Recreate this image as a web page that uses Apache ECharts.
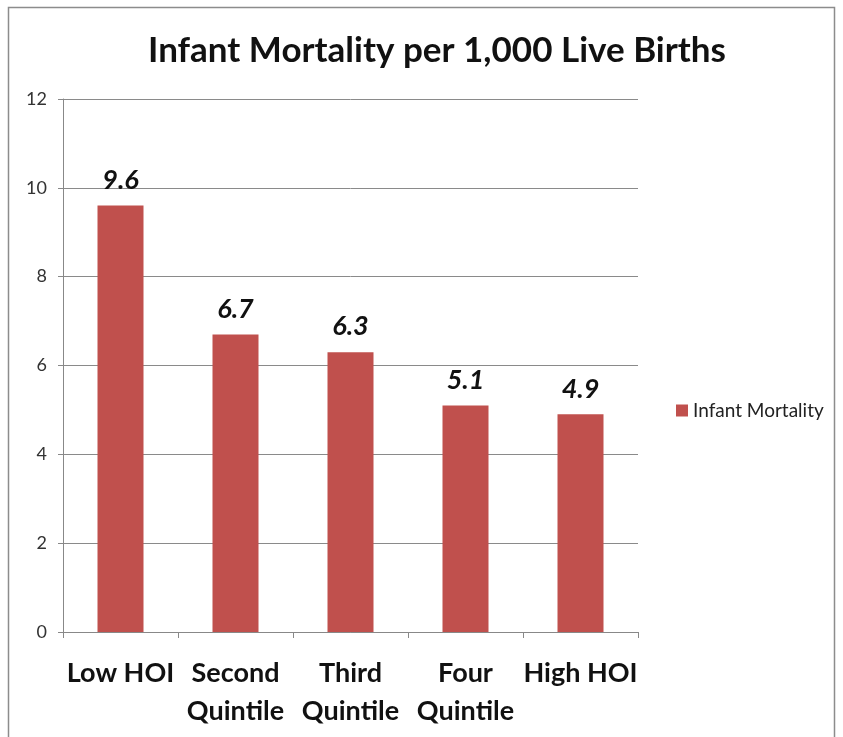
<!DOCTYPE html>
<html><head><meta charset="utf-8">
<script src="https://cdn.jsdelivr.net/npm/echarts@6/dist/echarts.min.js"></script>
<style>html,body{margin:0;padding:0;background:#fff}#c{width:843px;height:737px}</style>
</head><body><div id="c"></div>
<script>
const categories = ['Low HOI', 'Second\nQuintile', 'Third\nQuintile', 'Four\nQuintile', 'High HOI'];
const values = [9.6, 6.7, 6.3, 5.1, 4.9];
const seriesName = 'Infant Mortality';
const titleText = 'Infant Mortality per 1,000 Live Births';

const chart = echarts.init(document.getElementById('c'));
const font = 'Lato, "Open Sans", sans-serif';
chart.setOption({
  backgroundColor: '#fff',
  animation: false,
  graphic: [{type:'rect', shape:{x:8.5,y:7.5,width:826,height:740}, style:{fill:'none', stroke:'#8c8c8c', lineWidth:1.5}}],
  title: {text: titleText, left: 432, top: 28, textAlign:'center',
    textStyle:{fontFamily: font, fontSize: 35, fontWeight:'bold', color:'#111'}},
  legend: {data:[seriesName], left: 671, top: 396, itemWidth: 12, itemHeight: 12, itemGap: 4,
    icon:'rect', textStyle:{fontFamily: font, fontSize: 19, color:'#222'}},
  grid: {left: 63, top: 99, width: 575, height: 533, containLabel:false},
  xAxis: {type:'category', data: categories,
    axisLine:{lineStyle:{color:'#888'}},
    axisTick:{show:true, length:6, lineStyle:{color:'#888'}},
    axisLabel:{fontFamily: font, fontSize: 27, fontWeight:'bold', color:'#111', margin: 22, lineHeight: 38, interval:0}},
  yAxis: {type:'value', min:0, max:12, interval:2,
    axisLine:{show:true, lineStyle:{color:'#888'}},
    axisTick:{show:true, length:5, lineStyle:{color:'#888'}},
    splitLine:{lineStyle:{color:'#8a8a8a', width:1}},
    axisLabel:{fontFamily: font, fontSize: 18, color:'#333', margin: 16}},
  series: [{name: seriesName, type:'bar', data: values, barWidth:'40%',
    itemStyle:{color:'#C0504D'},
    label:{show:true, position:'top', distance: 12, fontFamily: font, fontSize: 27, fontWeight:'bold', fontStyle:'italic', color:'#111'}}]
});
</script></body></html>
